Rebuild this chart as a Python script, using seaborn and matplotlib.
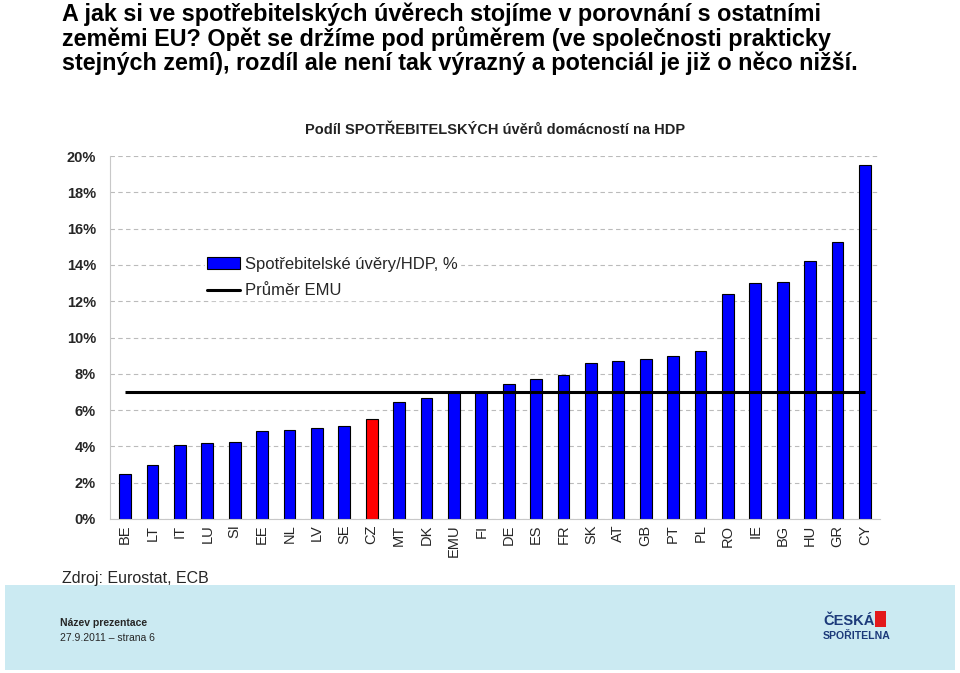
import pandas as pd
import matplotlib.pyplot as plt
import matplotlib.patches as mpatches
from matplotlib.lines import Line2D
from matplotlib.ticker import FuncFormatter, MultipleLocator
import seaborn as sns

# Data (% of GDP)
countries = ['BE', 'LT', 'IT', 'LU', 'SI', 'EE', 'NL', 'LV', 'SE', 'CZ', 'MT', 'DK', 'EMU', 'FI',
             'DE', 'ES', 'FR', 'SK', 'AT', 'GB', 'PT', 'PL', 'RO', 'IE', 'BG', 'HU', 'GR', 'CY']
loans_gdp = [2.5, 2.95, 4.07, 4.18, 4.25, 4.84, 4.91, 4.99, 5.12, 5.5, 6.42, 6.69, 7.0, 7.0,
             7.43, 7.74, 7.94, 8.58, 8.73, 8.79, 8.99, 9.25, 12.4, 12.99, 13.06, 14.23, 15.28, 19.48]
emu_avg = 7.0
highlight = 'CZ'

df = pd.DataFrame({'country': countries, 'value': loans_gdp})
df['grp'] = ['cz' if c == highlight else 'other' for c in countries]

sns.set_style('white')
plt.rcParams['font.family'] = ['Liberation Sans', 'DejaVu Sans']

fig = plt.figure(figsize=(9.6, 6.73), dpi=100)
ax = fig.add_axes([110 / 960, 1 - 519 / 673, 770 / 960, 363 / 673])

sns.barplot(data=df, x='country', y='value', hue='grp',
            palette={'other': '#0000ff', 'cz': '#ff0000'}, dodge=False, saturation=1,
            width=0.43, edgecolor='black', linewidth=0.8, legend=False, ax=ax)
ax.hlines(emu_avg, 0, len(countries) - 1, color='black', linewidth=2.2, zorder=5)

ax.set_ylim(0, 20)
ax.set_xlim(-0.55, len(countries) - 0.45)
ax.yaxis.set_major_locator(MultipleLocator(2))
ax.yaxis.set_major_formatter(FuncFormatter(lambda v, p: f'{v:.0f}%'))
ax.grid(axis='y', color='#bbbbbb', linestyle=(0, (4, 3)), linewidth=0.8)
ax.set_axisbelow(True)
for s in ['top', 'right']:
    ax.spines[s].set_visible(False)
ax.spines['left'].set_color('#c8c8c8')
ax.spines['bottom'].set_color('#c8c8c8')
ax.set_xlabel('')
ax.set_ylabel('')
ax.tick_params(axis='y', length=0, pad=10, labelsize=10.5)
for t in ax.get_yticklabels():
    t.set_fontweight('bold')
ax.tick_params(axis='x', length=0, labelsize=10.5, labelrotation=90, pad=4)

ax.set_title('Podíl SPOTŘEBITELSKÝCH úvěrů domácností na HDP', fontsize=10.5,
             fontweight='bold', color='#222222', pad=16)

handles = [mpatches.Patch(facecolor='#0000ff', edgecolor='black', linewidth=0.8),
           Line2D([], [], color='black', linewidth=2.2)]
leg = ax.legend(handles, ['Spotřebitelské úvěry/HDP, %', 'Průměr EMU'],
                loc='upper left', bbox_to_anchor=(0.113, 0.75), frameon=True,
                fontsize=12, handlelength=2.0, handletextpad=0.3, labelspacing=0.7,
                borderpad=0.1)
leg.get_frame().set_edgecolor('white')
leg.get_frame().set_alpha(1)

fig.text(62 / 960, 1 - 2 / 673,
         'A jak si ve spotřebitelských úvěrech stojíme v porovnání s ostatními\n'
         'zeměmi EU? Opět se držíme pod průměrem (ve společnosti prakticky\n'
         'stejných zemí), rozdíl ale není tak výrazný a potenciál je již o něco nižší.',
         ha='left', va='top', fontsize=16.8, fontweight='bold', linespacing=1.04,
         color='black')

fig.text(62 / 960, 1 - 578 / 673, 'Zdroj: Eurostat, ECB', ha='left', va='center', fontsize=11.5)

# footer band
fig.patches.append(mpatches.Rectangle((5 / 960, 1 - 670 / 673), 950 / 960, 85 / 673,
                                      transform=fig.transFigure, facecolor='#cbeaf2',
                                      edgecolor='none', zorder=0))
fig.text(60 / 960, 1 - 623 / 673, 'Název prezentace', ha='left', va='center',
         fontsize=7.5, fontweight='bold')
fig.text(60 / 960, 1 - 638 / 673, '27.9.2011 – strana 6', ha='left', va='center', fontsize=7.5)
fig.text(823 / 960, 1 - 625 / 673, 'ČESKÁ', ha='left', va='baseline', fontsize=10.5,
         fontweight='bold', color='#1c3a7a')
fig.text(823 / 960, 1 - 639 / 673, 'SPOŘITELNA', ha='left', va='baseline', fontsize=7.6,
         fontweight='bold', color='#1c3a7a')
fig.patches.append(mpatches.Rectangle((875 / 960, 1 - 627 / 673), 11 / 960, 16 / 673,
                                      transform=fig.transFigure, facecolor='#e3191b',
                                      edgecolor='none'))

fig.savefig('out.png', dpi=100)
